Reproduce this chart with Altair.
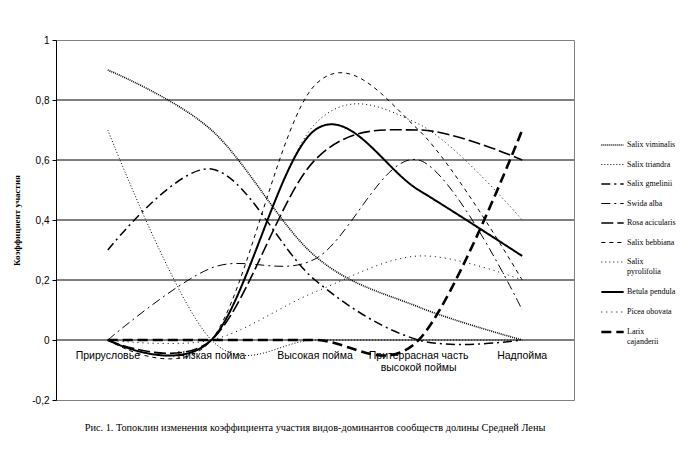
import altair as alt
import pandas as pd

categories = ["Прирусловье", "Низкая пойма", "Высокая пойма",
              "Притеррасная часть\nвысокой поймы", "Надпойма"]

species = ["Salix viminalis", "Salix triandra", "Salix gmelinii", "Swida alba",
           "Rosa acicularis", "Salix bebbiana", "Salix pyrolifolia",
           "Betula pendula", "Picea obovata", "Larix cajanderii"]

salix_viminalis = [0.90, 0.70, 0.28, 0.11, 0.00]
salix_triandra = [0.70, 0.00, 0.00, 0.00, 0.00]
salix_gmelinii = [0.30, 0.57, 0.20, 0.00, 0.00]
swida_alba = [0.00, 0.24, 0.27, 0.60, 0.10]
rosa_acicularis = [0.00, 0.00, 0.60, 0.70, 0.60]
salix_bebbiana = [0.00, 0.00, 0.85, 0.70, 0.20]
salix_pyrolifolia = [0.00, 0.00, 0.72, 0.72, 0.40]
betula_pendula = [0.00, 0.00, 0.70, 0.50, 0.28]
picea_obovata = [0.00, 0.00, 0.16, 0.28, 0.20]
larix_cajanderii = [0.00, 0.00, 0.00, 0.00, 0.70]

series_values = [salix_viminalis, salix_triandra, salix_gmelinii, swida_alba,
                 rosa_acicularis, salix_bebbiana, salix_pyrolifolia,
                 betula_pendula, picea_obovata, larix_cajanderii]

y_ticks = [-0.2, 0, 0.2, 0.4, 0.6, 0.8, 1]
grid_values = [0, 0.2, 0.4, 0.6, 0.8]

caption = ("Рис. 1. Топоклин изменения коэффициента участия видов-доминантов "
           "сообществ долины Средней Лены")

# line styles
dashes = [[1, 1], [1, 2], [9, 4, 2, 4], [9, 4, 2, 4], [12, 4], [4, 4],
          [1, 3], [1, 0], [1, 4], [10, 5]]
widths = [1.6, 1.0, 1.5, 1.0, 1.6, 1.0, 1.0, 2.0, 1.0, 2.6]

rows = []
for sp, vals in zip(species, series_values):
    for cat, v in zip(categories, vals):
        rows.append({"species": sp, "cat": cat, "value": v})
df = pd.DataFrame(rows)

x_enc = alt.X("cat:O", sort=categories,
              scale=alt.Scale(type="point", padding=0.5), axis=None)
y_scale = alt.Scale(domain=[-0.2, 1], nice=False, zero=False)

grid = alt.Chart(pd.DataFrame({"v": grid_values})).mark_rule(
    color="black", strokeWidth=1
).encode(
    y=alt.Y("v:Q", scale=y_scale,
            axis=alt.Axis(values=y_ticks,
                          labelExpr="replace(toString(datum.value), '.', ',')",
                          title="Коэффициент участия",
                          titleFont="Liberation Serif", titleFontWeight="bold",
                          titleFontSize=9, titleColor="black", titlePadding=10,
                          labelFont="Liberation Sans", labelFontSize=10,
                          labelColor="black", labelPadding=3,
                          domainColor="black", tickColor="black", tickSize=4,
                          grid=False))
)

labels = alt.Chart(pd.DataFrame({"cat": categories})).mark_text(
    font="Liberation Sans", fontSize=10.5, color="black", baseline="top",
    align="center", dy=11, lineBreak="\n", lineHeight=12
).encode(
    x=x_enc,
    y=alt.datum(0),
    text="cat:N",
)

legend_def = dict(
    title=None, orient="none", legendX=544, legendY=93,
    symbolType="stroke", symbolSize=500, symbolStrokeColor="black",
    labelFont="Liberation Serif", labelFontSize=8, labelColor="black",
    labelOffset=2, rowPadding=3.5,
    labelExpr="length(datum.label) > 15 ? split(datum.label, ' ') : datum.label",
)

lines = alt.Chart(df).mark_line(
    interpolate="cardinal", tension=0, color="black"
).encode(
    x=x_enc,
    y=alt.Y("value:Q", scale=y_scale),
    strokeDash=alt.StrokeDash(
        "species:N",
        scale=alt.Scale(domain=species, range=dashes),
        legend=alt.Legend(**legend_def),
    ),
    strokeWidth=alt.StrokeWidth(
        "species:N",
        scale=alt.Scale(type="ordinal", domain=species, range=widths),
        legend=alt.Legend(**legend_def),
    ),
    detail="species:N",
)

chart = alt.layer(grid, labels, lines).properties(
    width=518, height=360,
    autosize=alt.AutoSizeParams(type="none"),
    padding={"left": 48, "top": 32, "right": 106, "bottom": 48},
    title=alt.TitleParams(caption, orient="bottom", anchor="middle",
                          font="Liberation Serif", fontSize=10.3,
                          fontWeight="normal", color="black", offset=18),
).configure_view(stroke="#808080", strokeWidth=1)

chart.save("out.html", embed_options={"renderer": "svg", "actions": False})
